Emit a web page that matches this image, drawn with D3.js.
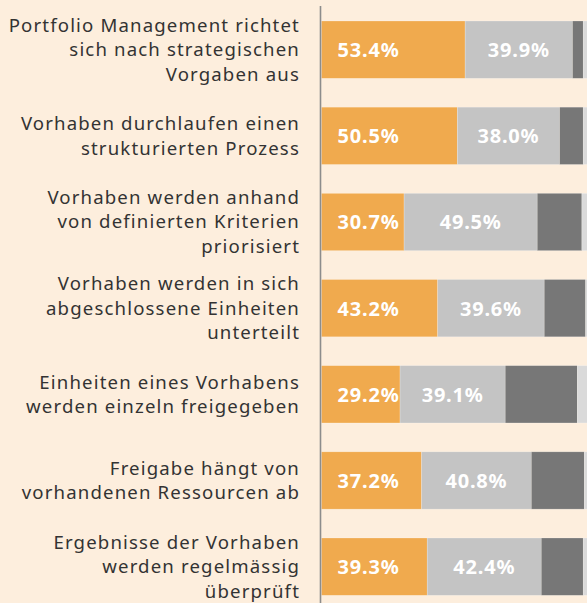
<!DOCTYPE html>
<html>
<head>
<meta charset="utf-8">
<script src="https://cdn.jsdelivr.net/npm/d3@7"></script>
<style>
  html, body { margin: 0; padding: 0; background: #fdeedd; overflow: hidden; }
  svg { display: block; }
</style>
</head>
<body>
<div id="chart"></div>
<script>
const categories = [
  ["Portfolio Management richtet", "sich nach strategischen", "Vorgaben aus"],
  ["Vorhaben durchlaufen einen", "strukturierten Prozess"],
  ["Vorhaben werden anhand", "von definierten Kriterien", "priorisiert"],
  ["Vorhaben werden in sich", "abgeschlossene Einheiten", "unterteilt"],
  ["Einheiten eines Vorhabens", "werden einzeln freigegeben"],
  ["Freigabe hängt von", "vorhandenen Ressourcen ab"],
  ["Ergebnisse der Vorhaben", "werden regelmässig", "überprüft"]
];
// four answer groups per statement (percent)
const seriesA = [53.4, 50.5, 30.7, 43.2, 29.2, 37.2, 39.3];
const seriesB = [39.9, 38.0, 49.5, 39.6, 39.1, 40.8, 42.4];
const seriesC = [4.0, 8.8, 16.6, 15.4, 26.8, 19.7, 15.6];
const seriesD = [2.7, 2.7, 3.2, 1.8, 4.9, 2.3, 2.7];
const colors = ["#f0aa4e", "#c4c4c4", "#777777", "#dadada"];

const W = 587, H = 603;
const svg = d3.select("#chart").append("svg")
  .attr("width", W).attr("height", H);

svg.append("rect").attr("width", W).attr("height", H).attr("fill", "#fdeedd");

const keys = d3.range(categories.length);
const x = d3.scaleLinear().domain([0, 100]).range([321.5, 590.5]);
const y = d3.scaleBand().domain(keys).range([21, 595.3]).paddingInner(0.335).paddingOuter(0);

const rows = keys.map(i => ({ i, vals: [seriesA[i], seriesB[i], seriesC[i], seriesD[i]] }));

const g = svg.append("g");
rows.forEach(r => {
  let acc = 0;
  r.vals.forEach((v, k) => {
    g.append("rect")
      .attr("x", x(acc))
      .attr("y", y(r.i))
      .attr("width", x(acc + v) - x(acc))
      .attr("height", y.bandwidth())
      .attr("fill", colors[k])
      .attr("stroke", "rgba(255,255,255,0.35)")
      .attr("stroke-width", 0.6);
    acc += v;
  });
  // value labels
  const cy = y(r.i) + y.bandwidth() / 2;
  g.append("text")
    .attr("x", x(0) + 16)
    .attr("y", cy)
    .attr("dy", "0.37em")
    .attr("fill", "#fff")
    .attr("font-family", "Noto Sans, sans-serif")
    .attr("font-weight", "bold")
    .attr("font-size", 20)
    .attr("letter-spacing", 0.8)
    .text(d3.format(".1f")(r.vals[0]) + "%");
  g.append("text")
    .attr("x", x(r.vals[0] + r.vals[1] / 2))
    .attr("y", cy)
    .attr("dy", "0.37em")
    .attr("text-anchor", "middle")
    .attr("fill", "#fff")
    .attr("font-family", "Noto Sans, sans-serif")
    .attr("font-weight", "bold")
    .attr("font-size", 20)
    .attr("letter-spacing", 0.8)
    .text(d3.format(".1f")(r.vals[1]) + "%");
});

// category labels, right aligned next to the axis line
const lineH = 24.5;
keys.forEach(i => {
  const lines = categories[i];
  const cy = y(i) + y.bandwidth() / 2;
  const t = svg.append("text")
    .attr("text-anchor", "end")
    .attr("fill", "#333")
    .attr("font-family", "Noto Sans, sans-serif")
    .attr("font-size", 18.6)
    .attr("letter-spacing", 1.15);
  lines.forEach((l, j) => {
    t.append("tspan")
      .attr("x", 300)
      .attr("y", cy + (j - (lines.length - 1) / 2) * lineH)
      .attr("dy", "0.35em")
      .text(l);
  });
});

// axis line
svg.append("line")
  .attr("x1", 320.5).attr("x2", 320.5)
  .attr("y1", 6).attr("y2", H)
  .attr("stroke", "#8c8c8c")
  .attr("stroke-width", 1.6);
</script>
</body>
</html>
